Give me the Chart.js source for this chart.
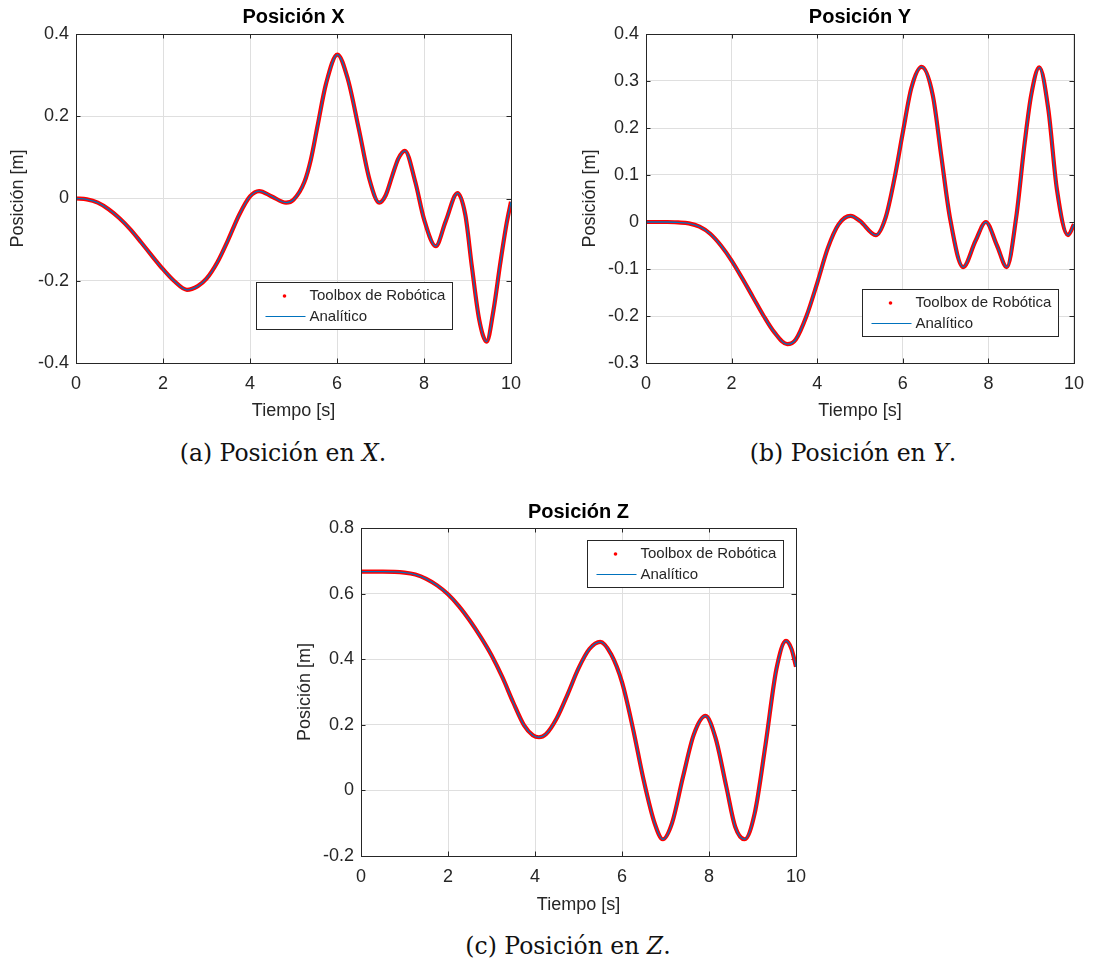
<!DOCTYPE html>
<html>
<head>
<meta charset="utf-8">
<script src="https://cdn.jsdelivr.net/npm/chart.js@4.4.1/dist/chart.umd.min.js"></script>
<style>
  html, body { margin: 0; padding: 0; background: #fff; }
  #page { position: relative; width: 1094px; height: 964px; overflow: hidden; background: #fff; }
  .panel { position: absolute; }
  .caption {
    position: absolute; white-space: nowrap; color: #111;
    font-family: "DejaVu Serif", "Liberation Serif", serif; font-size: 23.5px;
    transform: translateX(-50%); line-height: 1;
  }
  .caption i { font-style: italic; }
</style>
</head>
<body>
<div id="page">
  <div class="panel" style="left:0px;top:0px;"><canvas id="chartX" width="545" height="430"></canvas></div>
  <div class="panel" style="left:560px;top:0px;"><canvas id="chartY" width="534" height="430"></canvas></div>
  <div class="panel" style="left:280px;top:495px;"><canvas id="chartZ" width="545" height="430"></canvas></div>
  <div class="caption" style="left:283px;top:442px;">(a) Posición en <i>X</i>.</div>
  <div class="caption" style="left:853px;top:442px;">(b) Posición en <i>Y</i>.</div>
  <div class="caption" style="left:568px;top:935px;">(c) Posición en <i>Z</i>.</div>
</div>
<script>
// ---- time axis ----
const timeTicks = [0, 2, 4, 6, 8, 10];
const timeTickLabels = ['0', '2', '4', '6', '8', '10'];

// ---- X position [m] ----
const tX = [0, 0.25, 0.5, 0.75, 1.0, 1.25, 1.5, 1.75, 2.0, 2.25, 2.55, 2.8, 3.0, 3.25, 3.5, 3.75,
            4.0, 4.21, 4.5, 4.83, 5.0, 5.25, 5.4, 5.55, 5.75, 6.01, 6.25, 6.5, 6.75, 6.97, 7.12, 7.27, 7.41,
            7.56, 7.8, 8.0, 8.27, 8.5, 8.77, 8.95, 9.1, 9.27, 9.44, 9.6, 9.75, 9.9, 10];
const posX = [0, -0.002, -0.010, -0.026, -0.048, -0.075, -0.107, -0.140, -0.172, -0.200, -0.222, -0.213, -0.195, -0.155, -0.100, -0.040,
              0.005, 0.018, 0.005, -0.010, -0.003, 0.040, 0.095, 0.175, 0.280, 0.350, 0.290, 0.170, 0.045, -0.010, 0.008, 0.055, 0.097,
              0.116, 0.040, -0.050, -0.116, -0.055, 0.013, -0.040, -0.165, -0.295, -0.348, -0.270, -0.160, -0.060, -0.008];
const yTicksX = [-0.4, -0.2, 0, 0.2, 0.4];
const yTickLabelsX = ['-0.4', '-0.2', '0', '0.2', '0.4'];

// ---- Y position [m] ----
const tY = [0, 0.5, 0.75, 1.0, 1.25, 1.5, 1.75, 2.0, 2.25, 2.5, 2.75, 3.0, 3.30, 3.5, 3.75, 4.0,
            4.25, 4.5, 4.78, 5.0, 5.37, 5.6, 5.8, 6.0, 6.2, 6.44, 6.7, 6.9, 7.1, 7.41,
            7.7, 7.94, 8.2, 8.43, 8.65, 8.85, 9.0, 9.19, 9.4, 9.6, 9.86, 10];
const posY = [0, 0, -0.001, -0.003, -0.010, -0.025, -0.050, -0.082, -0.120, -0.160, -0.200, -0.235, -0.260, -0.250, -0.200, -0.130,
              -0.055, -0.005, 0.013, 0.002, -0.028, 0.010, 0.090, 0.190, 0.285, 0.330, 0.270, 0.140, 0.010, -0.096,
              -0.040, 0, -0.050, -0.096, 0.010, 0.170, 0.270, 0.329, 0.240, 0.070, -0.028, -0.005];
const yTicksY = [-0.3, -0.2, -0.1, 0, 0.1, 0.2, 0.3, 0.4];
const yTickLabelsY = ['-0.3', '-0.2', '-0.1', '0', '0.1', '0.2', '0.3', '0.4'];

// ---- Z position [m] ----
const tZ = [0, 0.5, 1.0, 1.25, 1.5, 1.75, 2.0, 2.25, 2.5, 2.75, 3.0, 3.25, 3.5, 3.75, 3.95, 4.09, 4.25,
            4.5, 4.75, 5.0, 5.25, 5.50, 5.75, 6.0, 6.25, 6.5, 6.75, 6.94, 7.15, 7.4, 7.65,
            7.92, 8.15, 8.4, 8.6, 8.82, 9.05, 9.3, 9.55, 9.77, 9.9, 10];
const posZ = [0.667, 0.667, 0.664, 0.658, 0.645, 0.625, 0.598, 0.562, 0.518, 0.468, 0.412, 0.345, 0.268, 0.198, 0.168, 0.162, 0.171,
              0.220, 0.293, 0.372, 0.431, 0.453, 0.415, 0.330, 0.190, 0.030, -0.100, -0.149, -0.100, 0.040, 0.170,
              0.227, 0.160, 0.010, -0.110, -0.149, -0.070, 0.140, 0.370, 0.456, 0.430, 0.377];
const yTicksZ = [-0.2, 0, 0.2, 0.4, 0.6, 0.8];
const yTickLabelsZ = ['-0.2', '0', '0.2', '0.4', '0.6', '0.8'];

const seriesNames = ['Toolbox de Robótica', 'Analítico'];

const FONT = '"Liberation Sans", Arial, Helvetica, sans-serif';
const INK = '#262626';
const GRID = '#dfdfdf';
const RED = '#ff0000';
const BLUE = '#0072bd';

// plot title, axes box with inward tick marks, and the boxed legend
const framePlugin = {
  id: 'frame',
  beforeDatasetsDraw(chart) {
    const { ctx, chartArea: a, scales } = chart;
    ctx.save();
    ctx.strokeStyle = INK;
    ctx.lineWidth = 1;
    const len = 4.5;
    ctx.beginPath();
    scales.x.ticks.forEach(t => {
      const px = Math.round(scales.x.getPixelForValue(t.value)) + 0.5;
      ctx.moveTo(px, a.bottom); ctx.lineTo(px, a.bottom - len);
      ctx.moveTo(px, a.top); ctx.lineTo(px, a.top + len);
    });
    scales.y.ticks.forEach(t => {
      const py = Math.round(scales.y.getPixelForValue(t.value)) + 0.5;
      ctx.moveTo(a.left, py); ctx.lineTo(a.left + len, py);
      ctx.moveTo(a.right, py); ctx.lineTo(a.right - len, py);
    });
    ctx.stroke();
    ctx.restore();
  },
  afterDraw(chart, args, opts) {
    const { ctx, chartArea: a } = chart;
    ctx.save();
    // axes box
    ctx.strokeStyle = INK;
    ctx.lineWidth = 1;
    ctx.strokeRect(Math.round(a.left) + 0.5, Math.round(a.top) + 0.5,
                   Math.round(a.right - a.left), Math.round(a.bottom - a.top));
    // title
    ctx.fillStyle = '#000';
    ctx.font = 'bold 20px ' + FONT;
    ctx.textAlign = 'center';
    ctx.textBaseline = 'middle';
    ctx.fillText(opts.title, (a.left + a.right) / 2, a.top - opts.titleGap);
    // legend
    const w = 196, h = 47;
    const bx = Math.round(a.right - opts.legendRight - w) + 0.5;
    const by = Math.round(opts.legendTop != null ? a.top + opts.legendTop : a.bottom - opts.legendBottom - h) + 0.5;
    ctx.fillStyle = '#fff';
    ctx.fillRect(bx, by, w, h);
    ctx.strokeStyle = INK;
    ctx.strokeRect(bx, by, w, h);
    const ds = chart.data.datasets;
    ctx.fillStyle = ds[0].borderColor;
    ctx.beginPath();
    ctx.arc(bx + 28, by + 13.5, 1.8, 0, Math.PI * 2);
    ctx.fill();
    ctx.strokeStyle = ds[1].borderColor;
    ctx.lineWidth = 1.2;
    ctx.beginPath();
    ctx.moveTo(bx + 9, by + 34); ctx.lineTo(bx + 49, by + 34);
    ctx.stroke();
    ctx.fillStyle = INK;
    ctx.font = '15px ' + FONT;
    ctx.textAlign = 'left';
    ctx.textBaseline = 'middle';
    ctx.fillText(ds[0].label, bx + 53, by + 13.5);
    ctx.fillText(ds[1].label, bx + 53, by + 34);
    ctx.restore();
  }
};

function points(ts, vs) {
  return ts.map((t, i) => ({ x: t, y: vs[i] }));
}

function makeChart(id, c) {
  return new Chart(document.getElementById(id), {
    type: 'line',
    data: {
      datasets: [
        {
          // dense red samples, drawn underneath
          label: seriesNames[0], data: points(c.t, c.v), order: 2,
          borderColor: RED, borderWidth: 4.2, pointRadius: 0,
          cubicInterpolationMode: 'monotone', fill: false
        },
        {
          // thin analytic curve on top
          label: seriesNames[1], data: points(c.t, c.v), order: 1,
          borderColor: BLUE, borderWidth: 1.3, pointRadius: 0,
          cubicInterpolationMode: 'monotone', fill: false
        }
      ]
    },
    options: {
      responsive: false,
      animation: false,
      devicePixelRatio: 1,
      layout: { padding: { left: 0, right: c.padRight, top: c.padTop, bottom: 0 } },
      plugins: {
        legend: { display: false },
        tooltip: { enabled: false },
        frame: c.frame
      },
      scales: {
        x: {
          type: 'linear', min: 0, max: 10,
          afterBuildTicks: s => { s.ticks = timeTicks.map(v => ({ value: v })); },
          afterFit: s => { s.height = c.xAxisH; },
          grid: { color: GRID, drawTicks: false },
          border: { display: false },
          ticks: {
            padding: c.xTickPad, color: INK, font: { family: FONT, size: 18 },
            maxRotation: 0, autoSkip: false,
            callback: (v, i) => timeTickLabels[i]
          },
          title: {
            display: true, text: 'Tiempo [s]', color: INK,
            font: { family: FONT, size: 18 }, padding: { top: 0, bottom: c.xTitlePad }
          }
        },
        y: {
          type: 'linear', min: c.yTicks[0], max: c.yTicks[c.yTicks.length - 1],
          afterBuildTicks: s => { s.ticks = c.yTicks.map(v => ({ value: v })); },
          afterFit: s => { s.width = c.yAxisW; },
          grid: { color: GRID, drawTicks: false },
          border: { display: false },
          ticks: {
            padding: 7, color: INK, font: { family: FONT, size: 18 },
            autoSkip: false,
            callback: (v, i) => c.yTickLabels[i]
          },
          title: {
            display: true, text: 'Posición [m]', color: INK,
            font: { family: FONT, size: 18 }, padding: { top: c.yTitlePad, bottom: 0 }
          }
        }
      }
    },
    plugins: [framePlugin]
  });
}

makeChart('chartX', {
  t: tX, v: posX, yTicks: yTicksX, yTickLabels: yTickLabelsX,
  padRight: 34, padTop: 34, yAxisW: 76, xAxisH: 67, xTickPad: 10, xTitlePad: 8, yTitlePad: 7,
  frame: { title: 'Posición X', titleGap: 17, legendRight: 59, legendBottom: 34 }
});

makeChart('chartY', {
  t: tY, v: posY, yTicks: yTicksY, yTickLabels: yTickLabelsY,
  padRight: 13, padTop: 34, yAxisW: 86, xAxisH: 67, xTickPad: 10, xTitlePad: 8, yTitlePad: 19,
  frame: { title: 'Posición Y', titleGap: 17, legendRight: 16, legendBottom: 27 }
});

makeChart('chartZ', {
  t: tZ, v: posZ, yTicks: yTicksZ, yTickLabels: yTickLabelsZ,
  padRight: 29, padTop: 33, yAxisW: 81, xAxisH: 69, xTickPad: 10, xTitlePad: 9, yTitlePad: 14,
  frame: { title: 'Posición Z', titleGap: 16, legendRight: 13, legendTop: 12 }
});
</script>
</body>
</html>
